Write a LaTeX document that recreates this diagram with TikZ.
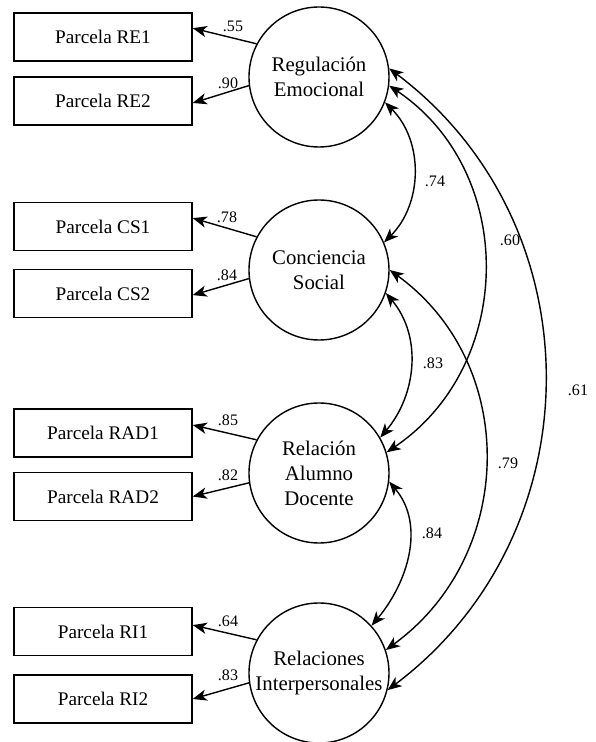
\documentclass[tikz,border=0pt]{standalone}
\usepackage{fontspec}
\setmainfont{Liberation Serif}
\usetikzlibrary{arrows.meta}

\begin{document}
\begin{tikzpicture}[>={Stealth[length=10pt,width=8pt,inset=2.8pt]},line width=1pt,
  item/.style={draw,minimum width=4.45cm,minimum height=1.2cm,inner sep=0pt,font=\fontsize{13.7}{16}\selectfont},
  factor/.style={draw,circle,minimum size=3.5cm,inner sep=0pt,align=center,font=\fontsize{14.8}{17.8}\selectfont},
  coef/.style={inner sep=0pt,font=\fontsize{11.4}{13}\selectfont}]

\useasboundingbox (0,0) rectangle (14.9,18.55);

% Factor 1: Regulacion Emocional
\node[factor] (re) at (7.975,16.625) {Regulación\\Emocional};
\node[item] (re1) at (2.575,17.625) {Parcela RE1};
\node[item] (re2) at (2.575,16.025) {Parcela RE2};
\draw[->] (re.152) -- ([yshift=0.22cm]re1.east);
\draw[->] (re.187) -- ([yshift=-0.05cm]re2.east);
\node[coef] (lre1) at (5.825,17.9) {.55};
\node[coef] (lre2) at (5.7,16.475) {.90};

% Factor 2: Conciencia Social
\node[factor] (cs) at (7.975,11.8) {Conciencia\\Social};
\node[item] (cs1) at (2.575,12.8875) {Parcela CS1};
\node[item] (cs2) at (2.575,11.2125) {Parcela CS2};
\draw[->] (cs.152) -- ([yshift=0.21cm]cs1.east);
\draw[->] (cs.187) -- ([yshift=-0.04cm]cs2.east);
\node[coef] (lcs1) at (5.675,13.125) {.78};
\node[coef] (lcs2) at (5.675,11.675) {.84};

% Factor 3: Relacion Alumno Docente
\node[factor] (rad) at (7.975,6.725) {Relación\\Alumno\\Docente};
\node[item] (rad1) at (2.575,7.725) {Parcela RAD1};
\node[item] (rad2) at (2.575,6.1375) {Parcela RAD2};
\draw[->] (rad.152) -- ([yshift=0.2cm]rad1.east);
\draw[->] (rad.188) -- (rad2.east);
\node[coef] (lrad1) at (5.7,8.05) {.85};
\node[coef] (lrad2) at (5.7,6.675) {.82};

% Factor 4: Relaciones Interpersonales
\node[factor] (ri) at (7.975,1.725) {Relaciones\\Interpersonales};
\node[item] (ri1) at (2.575,2.7625) {Parcela RI1};
\node[item] (ri2) at (2.575,1.075) {Parcela RI2};
\draw[->] (ri.152) -- ([yshift=0.16cm]ri1.east);
\draw[->] (ri.188) -- (ri2.east);
\node[coef] (lri1) at (5.7,3.025) {.64};
\node[coef] (lri2) at (5.7,1.675) {.83};

% Correlations
\draw[<->] (re.-21) to[out=-45,in=45] (cs.23);
\draw[<->] (cs.-19) to[out=-50,in=50] (rad.30);
\draw[<->] (rad.-7) to[out=-50,in=50] (ri.42);
\draw[<->] (re.-7) to[out=-34,in=34,looseness=1.08] (rad.17);
\draw[<->] (cs.0) to[out=-36,in=36,looseness=1.08] (ri.19);
\draw[<->] (re.7) to[out=-37,in=37,looseness=1.07] (ri.-14);
\node[coef] (c74) at (10.875,14.025) {.74};
\node[coef] (c83) at (10.825,9.475) {.83};
\node[coef] (c84) at (10.8,5.225) {.84};
\node[coef] (c60) at (12.75,12.55) {.60};
\node[coef] (c79) at (12.7,6.975) {.79};
\node[coef] (c61) at (14.45,8.8) {.61};

\end{tikzpicture}
\end{document}
